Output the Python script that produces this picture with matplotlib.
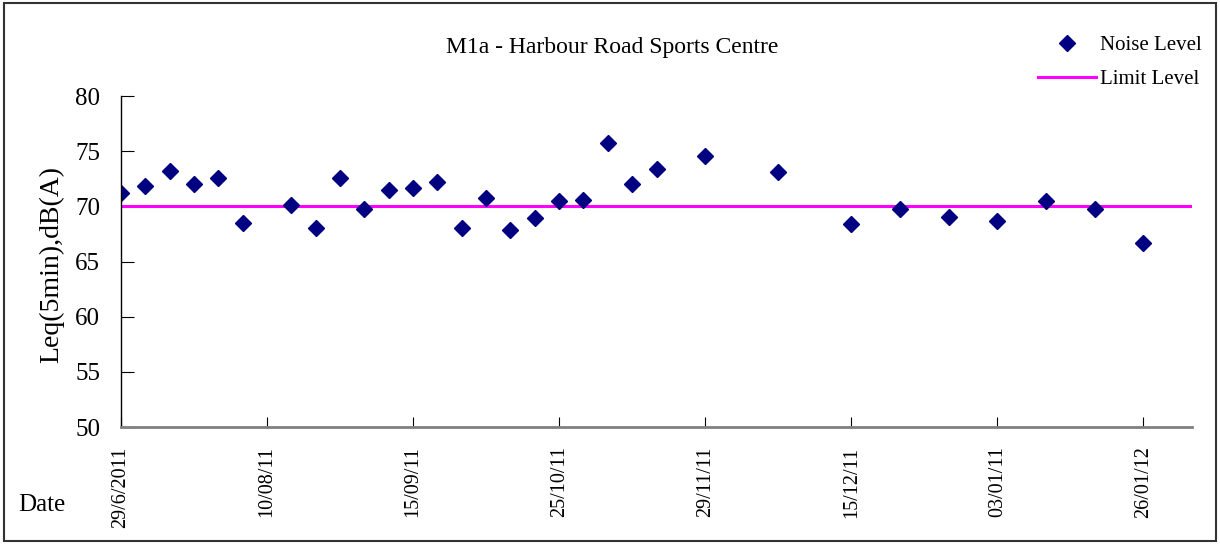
import matplotlib
matplotlib.use("Agg")
from matplotlib import pyplot as plt
from matplotlib.patches import Rectangle

plt.rcParams['font.family'] = ['Liberation Serif', 'DejaVu Serif']

# measurement slots (category positions on the x axis) and noise levels
slot = [0, 1, 2, 3, 4, 5, 7, 8, 9, 10, 11, 12, 13, 14, 15, 16, 17, 18, 19, 20,
        21, 22, 24, 27, 30, 32, 34, 36, 38, 40, 42]
noise = [71.2, 71.8, 73.2, 72.0, 72.6, 68.5, 70.1, 68.0, 72.6, 69.8, 71.5, 71.7,
         72.2, 68.0, 70.8, 67.9, 68.9, 70.5, 70.6, 75.7, 72.0, 73.4, 74.6, 73.1,
         68.4, 69.8, 69.0, 68.7, 70.5, 69.8, 66.7]
limit = 70

tick_slot = [0, 6, 12, 18, 24, 30, 36, 42]
tick_labels = ['29/6/2011', '10/08/11', '15/09/11', '25/10/11', '29/11/11',
               '15/12/11', '03/01/11', '26/01/12']

W, H = 1220, 544
fig = plt.figure(figsize=(W / 100, H / 100), dpi=100)
ax = fig.add_axes([121 / W, 1 - 427 / H, (1192 - 121) / W, (427 - 96) / H])

ax.axhline(limit, color='#FF00FF', lw=2.2, label='Limit Level')
ax.plot(slot, noise, ls='none', marker='D', ms=8.5, color='#000080', label='Noise Level')

ax.set_xlim(0, 44)
ax.set_ylim(50, 80)
ax.set_yticks(range(50, 81, 5))
ax.set_xticks(tick_slot)
ax.set_xticklabels(tick_labels, rotation=90, fontsize=14.5)
ax.tick_params(axis='y', direction='in', length=9, pad=15, labelsize=18)
ax.tick_params(axis='x', direction='in', length=7, pad=14)

for s in ['top', 'right']:
    ax.spines[s].set_visible(False)
ax.spines['bottom'].set_color('#808080')
ax.spines['bottom'].set_linewidth(2)
ax.spines['left'].set_color('black')
ax.spines['left'].set_linewidth(1)

fig.text(612 / W, 1 - 47 / H, 'M1a - Harbour Road Sports Centre', ha='center', va='center', fontsize=17)
fig.text(52 / W, 1 - 265 / H, 'Leq(5min),dB(A)', rotation=90, ha='center', va='center', fontsize=20)
fig.text(18 / W, 1 - 505 / H, 'Date', ha='left', va='center', fontsize=18)

h, l = ax.get_legend_handles_labels()
fig.legend(h[::-1], l[::-1], loc='upper right', bbox_to_anchor=(1221 / W, 1 - 17 / H),
           frameon=False, handlelength=2.8, handletextpad=0.2, labelspacing=0.7, fontsize=15)

fig.add_artist(Rectangle((4 / W, 3 / H), (1216 - 4) / W, (543 - 5) / H, transform=fig.transFigure,
                         fill=False, edgecolor='#333333', lw=1.5))

fig.savefig('out.png', dpi=100)
